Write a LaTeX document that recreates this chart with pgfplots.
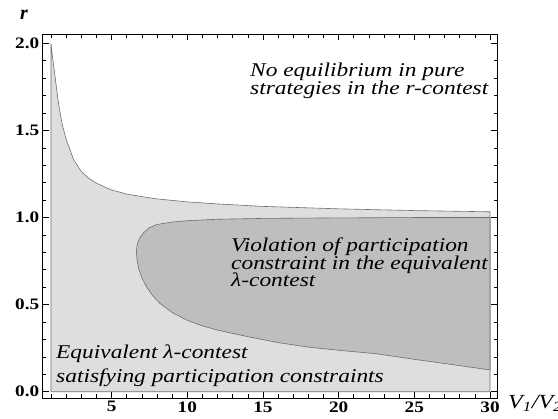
\documentclass[border=0pt]{standalone}
\usepackage{pgfplots}
\pgfplotsset{compat=1.18}
\usepackage{fontspec}
\setmainfont{Liberation Serif}
\newcommand{\sx}[1]{\scalebox{1.2}[1]{#1}}
\definecolor{lightreg}{HTML}{DEDEDE}
\definecolor{darkreg}{HTML}{BEBEBE}
\definecolor{edge}{HTML}{6E6E6E}
\begin{document}
\begin{tikzpicture}
\begin{axis}[
  at={(42.7bp,21bp)}, anchor=south west,
  scale only axis, width=454.3bp, height=363.7bp,
  xmin=0.45, xmax=30.46, ymin=-0.036, ymax=2.052,
  xtick={5,10,...,30}, ytick={0,0.5,...,2},
  minor xtick={1,...,30},
  minor ytick={0.1,0.2,0.3,0.4,0.6,0.7,0.8,0.9,1.1,1.2,1.3,1.4,1.6,1.7,1.8,1.9},
  tick align=inside, major tick length=6bp, minor tick length=3.5bp,
  tick style={black, line width=0.6pt},
  axis line style={line width=0.8pt},
  /pgf/number format/assume math mode=true,
  yticklabel style={/pgf/number format/fixed, /pgf/number format/fixed zerofill, /pgf/number format/precision=1},
  ticklabel style={font=\bfseries\fontsize{16bp}{16bp}\selectfont},
  xticklabel={\sx{\pgfmathprintnumber{\tick}}},
  yticklabel={\sx{\pgfmathprintnumber[fixed,fixed zerofill,precision=1]{\tick}}},
  axis on top,
]
\addplot[fill=lightreg, draw=edge, line width=0.6pt] coordinates {
 (1,0) (1,2.0) (1.1,1.92) (1.25,1.82) (1.5,1.65) (1.75,1.53) (2,1.45)
 (2.5,1.33) (3,1.265) (3.5,1.225) (4,1.197) (5,1.158) (6,1.135) (7,1.12)
 (8,1.107) (10,1.09) (12,1.078) (15,1.064) (20,1.05) (25,1.04) (30,1.033) (30,0)
} -- cycle;
\addplot[fill=darkreg, draw=edge, line width=0.6pt] coordinates {
 (30,1.0) (25,1.0) (20,0.998) (15,0.995) (12,0.99) (10,0.982) (9,0.974)
 (8,0.96) (7.5,0.942) (7.1,0.912) (6.85,0.88) (6.7,0.85) (6.64,0.81)
 (6.68,0.76) (6.78,0.71) (6.97,0.66) (7.3,0.603) (7.7,0.553) (8.2,0.507)
 (9,0.455) (10,0.41) (11,0.378) (12,0.354) (14,0.316) (16,0.282) (18,0.256)
 (20,0.238) (22.5,0.218) (25,0.186) (27.5,0.156) (30,0.125)
} -- cycle;
\end{axis}
\begin{scope}[every node/.style={inner sep=0pt, anchor=base west, font=\itshape\fontsize{19.5bp}{19.5bp}\selectfont}]
\node at (250bp,342.3bp) {\sx{No equilibrium in pure}};
\node at (250bp,324bp) {\sx{strategies in the r-contest}};
\node at (231bp,167.3bp) {\sx{Violation of participation}};
\node at (231bp,149.5bp) {\sx{constraint in the equivalent}};
\node at (231bp,132bp) {\sx{λ-contest}};
\node at (56bp,60.5bp) {\sx{Equivalent λ-contest}};
\node at (56bp,37bp) {\sx{satisfying participation constraints}};
\end{scope}
\node[inner sep=0pt, anchor=base, font=\bfseries\itshape\fontsize{20bp}{20bp}\selectfont] at (24bp,399bp) {r};
\node[inner sep=0pt, anchor=base west, font=\itshape\fontsize{20bp}{20bp}\selectfont] at (508bp,11bp) {\sx{V\textsubscript{1}/V\textsubscript{2}}};
\pgfresetboundingbox
\path[use as bounding box] (0,0) rectangle (558bp,419bp);
\end{tikzpicture}
\end{document}
